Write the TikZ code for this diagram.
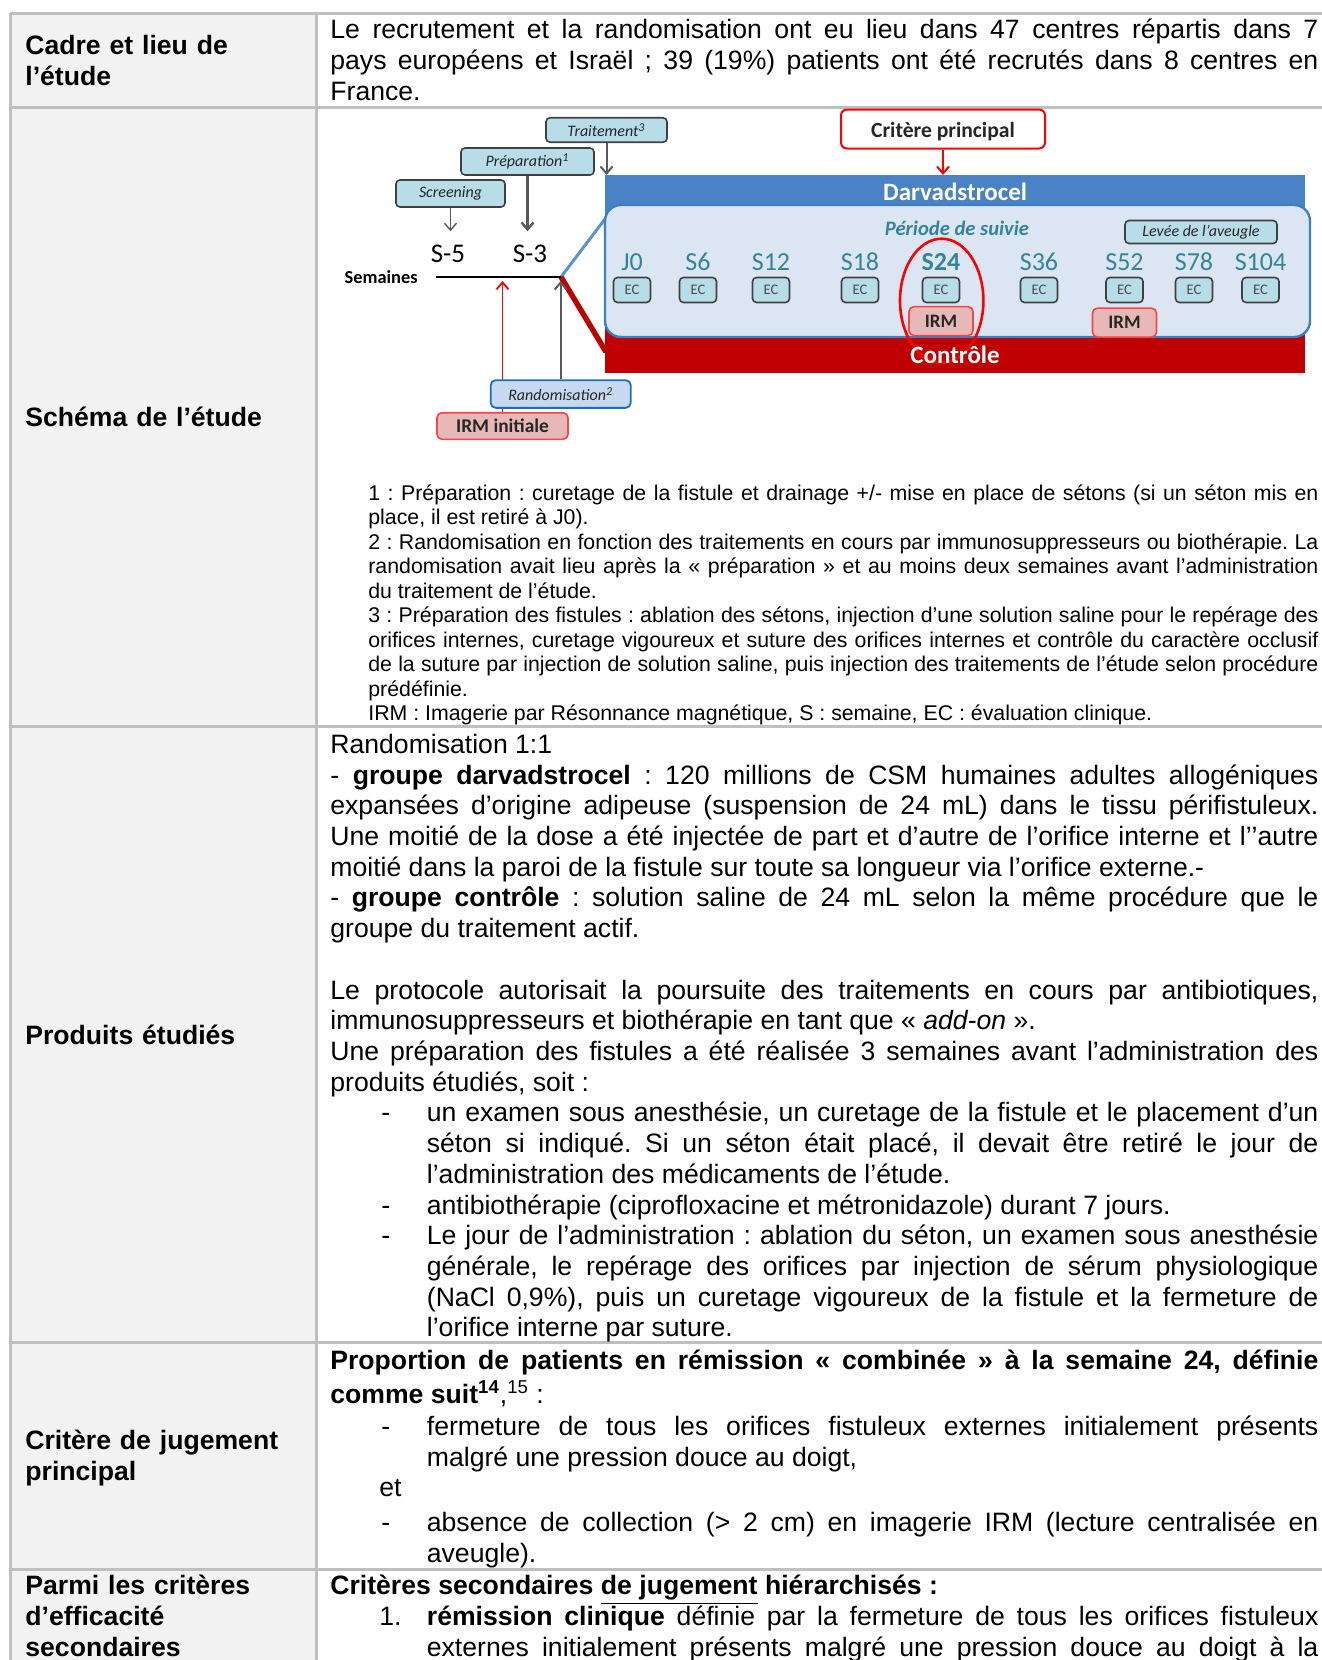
\documentclass[tikz,border=0pt]{standalone}
\usepackage{fontspec}
\setmainfont{Liberation Sans}
\newfontfamily\calib{Carlito}
\usetikzlibrary{arrows.meta,positioning}

\definecolor{tablegray}{RGB}{191,191,191}
\definecolor{labgray}{RGB}{242,242,242}
\definecolor{bandblue}{RGB}{74,130,198}
\definecolor{bandred}{RGB}{192,0,0}
\definecolor{suivifill}{RGB}{220,230,242}
\definecolor{suiviline}{RGB}{58,128,196}
\definecolor{weekteal}{RGB}{49,132,155}
\definecolor{phasefill}{RGB}{183,222,232}
\definecolor{randofill}{RGB}{198,217,241}
\definecolor{randoline}{RGB}{30,110,190}
\definecolor{irmfill}{RGB}{230,185,184}
\definecolor{irmline}{RGB}{245,70,70}
\definecolor{diagblue}{RGB}{90,145,215}
\definecolor{arrowgray}{RGB}{89,89,89}

\newcommand{\cellfont}{\fontsize{13.3}{15.35}\selectfont\frenchspacing\parindent=0pt\relax\tolerance=10000\relax\hyphenpenalty=10000\relax\exhyphenpenalty=10000\relax}
\newcommand{\notefont}{\fontsize{10.65}{12.25}\selectfont\frenchspacing\parindent=0pt\relax\tolerance=10000\relax\hyphenpenalty=10000\relax\exhyphenpenalty=10000\relax}
\newcommand{\dashitem}{\par\leftskip=48.25pt\relax\noindent\llap{\makebox[22.75pt][l]{-}}}
\newcommand{\numitem}[1]{\par\leftskip=48.25pt\relax\noindent\llap{\makebox[23.75pt][l]{#1}}}

\begin{document}
\begin{tikzpicture}[x=0.5pt, y=-0.5pt,
    >={Straight Barb[length=3.5pt,width=6pt]},
    tabline/.style={draw=tablegray, line width=1.5pt},
    celltxt/.style={anchor=north west, inner sep=0pt, text width=494pt, align=justify, font=\cellfont},
    notetxt/.style={anchor=north west, inner sep=0pt, text width=475pt, align=justify, font=\notefont},
    rowlab/.style={anchor=north west, inner sep=0pt, text width=140pt, align=left, font=\cellfont\bfseries},
    phasebox/.style={draw=black!75, fill=phasefill, line width=0.8pt, rounded corners=2pt, inner sep=0pt,
      minimum height=13.5pt, text=black!85, font=\calib\itshape\fontsize{8}{9}\selectfont},
    ecbox/.style={draw=black!75, fill=phasefill, line width=0.8pt, rounded corners=2pt, inner sep=0pt,
      minimum width=18.5pt, minimum height=12.5pt, text=black!70, font=\calib\fontsize{7.3}{8}\selectfont},
    irmbox/.style={draw=irmline, fill=irmfill, line width=0.8pt, rounded corners=2.5pt, inner sep=0pt,
      minimum width=32pt, minimum height=14.5pt, text=black!85, font=\calib\bfseries\fontsize{9.5}{10}\selectfont},
    randobox/.style={draw=randoline, fill=randofill, line width=0.9pt, rounded corners=2.5pt, inner sep=0pt,
      minimum width=70pt, minimum height=13.85pt, text=black!85, font=\calib\itshape\fontsize{8}{9}\selectfont},
    critbox/.style={draw=red, fill=white, line width=1pt, rounded corners=3pt, inner sep=0pt, text height=10.5pt,
      minimum width=102pt, minimum height=19.5pt, text=black!85, font=\calib\bfseries\fontsize{10.8}{12}\selectfont},
    weeklab/.style={inner sep=0pt, text=weekteal, font=\calib\fontsize{13}{14}\selectfont},
    bandtxt/.style={inner sep=0pt, text=white, font=\calib\bfseries\fontsize{12.5}{14}\selectfont},
    suivitxt/.style={inner sep=0pt, text=weekteal, font=\calib\bfseries\itshape\fontsize{10.3}{12}\selectfont},
    slab/.style={inner sep=0pt, font=\calib\fontsize{13.5}{15}\selectfont},
    semtxt/.style={inner sep=0pt, font=\calib\bfseries\fontsize{9.2}{11}\selectfont},
    grayarrow/.style={->, draw=arrowgray},
    redarrow/.style={->, draw=red}
  ]
  \useasboundingbox (0,0) rectangle (1322,1660);
  \clip (0,0) rectangle (1322,1660);

  % table
  \fill[labgray] (10,13) rectangle (316.5,1660);
  \foreach \y in {13,107,726,1342,1569}
    \draw[tabline] (10,\y) -- (1322,\y);
  \foreach \x in {10,316.5}
    \draw[tabline] (\x,13) -- (\x,1660);

  % row labels
  \node[rowlab] (lab1) at (25,33) {\strut Cadre et lieu de\\l’étude};
  \node[rowlab] (lab2) at (25,404.5) {\strut Schéma de l’étude};
  \node[rowlab] (lab3) at (25,1022.5) {\strut Produits étudiés};
  \node[rowlab] (lab4) at (25,1428) {\strut Critère de jugement\\principal};
  \node[rowlab] (lab5) at (25,1573) {\strut Parmi les critères\\d’efficacité\\secondaires};

  % row 1
  \node[celltxt] (cadre) at (330,17.1) {\strut Le recrutement et la randomisation ont eu lieu dans 47 centres répartis dans 7\linebreak
    pays européens et Israël ; 39 (19\%) patients ont été recrutés dans 8 centres en\linebreak
    France.};

  % row 2, notes
  \node[notetxt] (notes) at (368,482.5) {\strut 1 : Préparation : curetage de la fistule et drainage +/- mise en place de sétons (si un séton mis en\linebreak
    place, il est retiré à J0).\par
    2 : Randomisation en fonction des traitements en cours par immunosuppresseurs ou biothérapie. La\linebreak
    randomisation avait lieu après la «~préparation~» et au moins deux semaines avant l’administration\linebreak
    du traitement de l’étude.\par
    3 : Préparation des fistules : ablation des sétons, injection d’une solution saline pour le repérage des\linebreak
    orifices internes, curetage vigoureux et suture des orifices internes et contrôle du caractère occlusif\linebreak
    de la suture par injection de solution saline, puis injection des traitements de l’étude selon procédure\linebreak
    prédéfinie.\par
    IRM : Imagerie par Résonnance magnétique, S : semaine, EC : évaluation clinique.};

  % row 3
  \node[celltxt] (produits) at (330,731.6) {\strut Randomisation 1:1\par
    - \textbf{groupe darvadstrocel} : 120 millions de CSM humaines adultes allogéniques\linebreak
    expansées d’origine adipeuse (suspension de 24 mL) dans le tissu périfistuleux.\linebreak
    Une moitié de la dose a été injectée de part et d’autre de l’orifice interne et l’\kern0pt’autre\linebreak
    moitié dans la paroi de la fistule sur toute sa longueur via l’orifice externe.-\par
    - \textbf{groupe contrôle} : solution saline de 24 mL selon la même procédure que le\linebreak
    groupe du traitement actif.\par
    \mbox{}\par
    Le protocole autorisait la poursuite des traitements en cours par antibiotiques,\linebreak
    immunosuppresseurs et biothérapie en tant que «~\textit{add-on}~».\par
    Une préparation des fistules a été réalisée 3 semaines avant l’administration des\linebreak
    produits étudiés, soit :
    \dashitem un examen sous anesthésie, un curetage de la fistule et le placement d’un\linebreak
    séton si indiqué. Si un séton était placé, il devait être retiré le jour de\linebreak
    l’administration des médicaments de l’étude.
    \dashitem antibiothérapie (ciprofloxacine et métronidazole) durant 7 jours.
    \dashitem Le jour de l’administration : ablation du séton, un examen sous anesthésie\linebreak
    générale, le repérage des orifices par injection de sérum physiologique\linebreak
    (NaCl 0,9\%), puis un curetage vigoureux de la fistule et la fermeture de\linebreak
    l’orifice interne par suture.\par};

  % row 4
  \node[celltxt] (critere) at (330,1347.5) {\strut\textbf{Proportion de patients en rémission «~combinée~» à la semaine 24, définie}\linebreak
    \textbf{comme suit\textsuperscript{14}},\textsuperscript{15} :\par\vspace{0.5pt}
    \dashitem fermeture de tous les orifices fistuleux externes initialement présents\linebreak
    malgré une pression douce au doigt,\par
    \leftskip=24.5pt\relax\noindent et\par\vspace{2.1pt}
    \dashitem absence de collection (> 2 cm) en imagerie IRM (lecture centralisée en\linebreak
    aveugle).\par};

  % row 5
  \node[celltxt] (second) at (330,1573) {\strut\textbf{Critères secondaires \underline{de jugement} hiérarchisés :}
    \numitem{1.}\parfillskip=0pt \textbf{rémission clinique} définie par la fermeture de tous les orifices fistuleux\linebreak
    externes initialement présents malgré une pression douce au doigt à la\par};

  % schema: zoom lines and bands
  \coordinate (tl0) at (436,277);
  \coordinate (tl1) at (561,277);
  \coordinate (zoomA) at (608,215);
  \coordinate (zoomB) at (606,352);
  \coordinate (bandtop) at (605,175);
  \draw[diagblue, line width=1.5pt] (tl1) -- (zoomA);
  \draw[bandred, line width=2.7pt] (tl1) -- (zoomB);
  \fill[bandblue] (605,175) rectangle (1305,262);
  \fill[bandred] (605,262) rectangle (1305,373);
  \draw[draw=suiviline, fill=suivifill, line width=1.2pt, rounded corners=8pt] (605,205) rectangle (1310,337);
  \node[suivitxt] (suivi) at (957,228) {Période de suivie};
  \node[phasebox, minimum width=76pt, minimum height=11.5pt] (levee) at (1201,232) {Levée de l’aveugle};

  % weeks
  \foreach \n/\x/\t in {0/632/J0, 6/698/S6, 12/771/S12, 18/860/S18, 24/941/\textbf{S24},
      36/1039/S36, 52/1124.5/S52, 78/1194/S78, 104/1260.5/S104} {
    \node[weeklab] (w\n) at (\x,262) {\t};
    \node[ecbox] (ec\n) at (\x,290) {EC};
  }
  \node[irmbox, below=1.25pt of ec24] (irm24) {IRM};
  \node[irmbox, below=2pt of ec52] (irm52) {IRM};
  \draw[red, line width=1.3pt] (941.7,300.7) ellipse [x radius=41.7, y radius=62];
  \node[bandtxt] (darva) at (955,192) {Darvadstrocel};
  \node[bandtxt] (ctrl) at (955,355) {Contrôle};

  % timeline
  \draw[line width=1.35pt] (tl0) -- (tl1);
  \node[semtxt, anchor=east] (sem) at (418,277) {Semaines};
  \node[slab] (s5) at (448,253.5) {S-5};
  \node[slab] (s3) at (530,253.5) {S-3};

  \node[phasebox, minimum width=60.5pt, minimum height=12.25pt] (trt) at (606.5,130) {Traitement\textsuperscript{3}};
  \node[phasebox, minimum width=66.5pt] (prep) at (527.5,161.5) {Préparation\textsuperscript{1}};
  \node[phasebox, minimum width=54.5pt] (scr) at (450.5,193.5) {Screening};
  \draw[grayarrow, line width=0.7pt, shorten >=6.5pt] (scr.south) -- (scr.south |- s5.north);
  \draw[grayarrow, line width=1.2pt, shorten >=6.5pt] (prep.south) -- (prep.south |- s3.north);
  \draw[grayarrow, line width=1pt] (trt.south) -- (trt.south |- bandtop);

  \node[critbox] (crit) at (943,129) {Critère principal};
  \draw[redarrow, line width=1pt] (crit.south) -- (crit.south |- bandtop);

  \node[irmbox, minimum width=65.5pt, minimum height=13.3pt, font=\calib\bfseries\fontsize{9.7}{11}\selectfont] (irm0) at (502.5,426) {IRM initiale};
  \draw[redarrow, line width=0.9pt, shorten >=2pt] (irm0.north) -- (irm0.north |- tl1);
  \node[randobox] (rando) at (560.7,394) {Randomisation\textsuperscript{2}};
  \draw[grayarrow, line width=1pt, shorten >=2pt] (rando.north) -- (rando.north |- tl1);
\end{tikzpicture}
\end{document}
